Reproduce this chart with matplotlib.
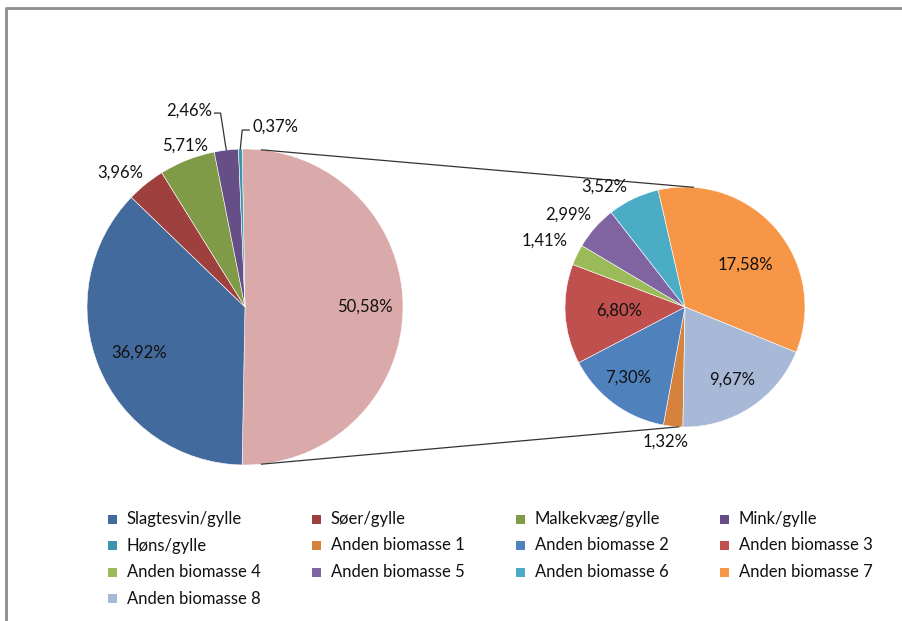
import numpy as np
import matplotlib
matplotlib.use('Agg')
import matplotlib.pyplot as plt
from matplotlib.patches import Rectangle

plt.rcParams['font.family'] = ['Lato', 'DejaVu Sans']

# shares in percent of total biomass
main_labels = ['Slagtesvin/gylle', 'Søer/gylle', 'Malkekvæg/gylle', 'Mink/gylle', 'Høns/gylle']
main_vals   = [36.92, 3.96, 5.71, 2.46, 0.37]
other_val   = 50.58
sub_labels  = ['Anden biomasse 1', 'Anden biomasse 2', 'Anden biomasse 3', 'Anden biomasse 4',
               'Anden biomasse 5', 'Anden biomasse 6', 'Anden biomasse 7', 'Anden biomasse 8']
sub_vals    = [1.32, 7.30, 6.80, 1.41, 2.99, 3.52, 17.58, 9.67]

main_colors = ['#426A9C', '#9E413E', '#7F9B48', '#664E86', '#3C93AC']
other_color = '#DAA9A9'
sub_colors  = ['#D4823C', '#4F81BD', '#C0504D', '#9BBB59', '#8064A2', '#4BACC6', '#F79646', '#A8B9D8']

W, H = 903, 621
fig = plt.figure(figsize=(W / 100, H / 100), dpi=100)
ax = fig.add_axes([0, 0, 1, 1])

def fy(y):                                   # pixel row -> axes y
  return H - y

def pct(v):
  return '{:.2f}%'.format(v).replace('.', ',')

FS = 12
TXT = '#111111'

# main pie, the "other" wedge centred on the right
c1, r1 = (245, fy(307)), 158
w1, _ = ax.pie([other_val] + main_vals, colors=[other_color] + main_colors,
               startangle=360 * other_val / 100 / 2, counterclock=False,
               center=c1, radius=r1, frame=True,
               wedgeprops=dict(edgecolor='white', linewidth=0.4))

# secondary pie
c2, r2 = (685, fy(307)), 120
w2, _ = ax.pie(sub_vals, colors=sub_colors, startangle=-91, counterclock=False,
               center=c2, radius=r2, frame=True,
               wedgeprops=dict(edgecolor='white', linewidth=0.4))
ax.set_xlim(0, W)
ax.set_ylim(0, H)
ax.set_aspect('equal')
ax.axis('off')
ax.set_frame_on(False)

# chart frame (left and top edges)
ax.plot([6, 6, W + 5], [-5, fy(8), fy(8)], color='#8c8c8c', lw=2, solid_capstyle='butt')

def polar(c, r, ang):
  a = np.deg2rad(ang)
  return c[0] + r * np.cos(a), c[1] + r * np.sin(a)

# connector lines between the two pies
for a1, a2 in [(84, 86), (-84, -93)]:
  x0, y0 = polar(c1, r1, a1)
  x1, y1 = polar(c2, r2, a2)
  ax.plot([x0, x1], [y0, y1], color='#333333', lw=0.9)

# label placement: (radius factor, angle nudge)
main_lab_pos  = [(0.76, 0), (0.73, 1), (1.16, 4), (1.09, -1), (1.257, 2.6), (1.14, -4)]
sub_lab_pos   = [(1.13, -2.7), (0.76, -2.6), (0.55, 0), (1.29, 0.5),
                 (1.24, 3.2), (1.21, 8.3), (0.61, -5.3), (0.72, -0.4)]

for i, (w, v) in enumerate(zip(w1, [other_val] + main_vals)):
  mid = (w.theta1 + w.theta2) / 2
  f, da = main_lab_pos[i]
  x, y = polar(c1, r1 * f, mid + da)
  if i == 4:                                 # Mink, leader line to the left
    ex, ey = polar(c1, r1, mid)
    ax.plot([ex, x + 8, x + 2], [ey, y - 2, y - 2], color='#333333', lw=0.9)
    ax.text(x, y, pct(v), ha='right', va='center', fontsize=FS, color=TXT)
  elif i == 5:                               # Høns, leader line to the right
    ex, ey = polar(c1, r1, mid)
    ax.plot([ex, x - 10, x - 3], [ey, y - 3, y - 3], color='#333333', lw=0.9)
    ax.text(x, y, pct(v), ha='left', va='center', fontsize=FS, color=TXT)
  else:
    ax.text(x, y, pct(v), ha='center', va='center', fontsize=FS, color=TXT)

for i, (w, v) in enumerate(zip(w2, sub_vals)):
  mid = (w.theta1 + w.theta2) / 2
  f, da = sub_lab_pos[i]
  x, y = polar(c2, r2 * f, mid + da)
  ax.text(x, y, pct(v), ha='center', va='center', fontsize=FS, color=TXT)

# legend, 4 columns filled row by row
leg_labels = main_labels + sub_labels
leg_colors = main_colors + sub_colors
for k, (lab, col) in enumerate(zip(leg_labels, leg_colors)):
  row, c = divmod(k, 4)
  x = 113 + 204 * c
  y = fy(519 + 26.5 * row)
  ax.add_patch(Rectangle((x - 4.5, y - 4.5), 9, 9, facecolor=col, edgecolor='none'))
  ax.text(x + 14, y, lab, ha='left', va='center', fontsize=FS, color=TXT)

fig.savefig('out.png', dpi=100)
